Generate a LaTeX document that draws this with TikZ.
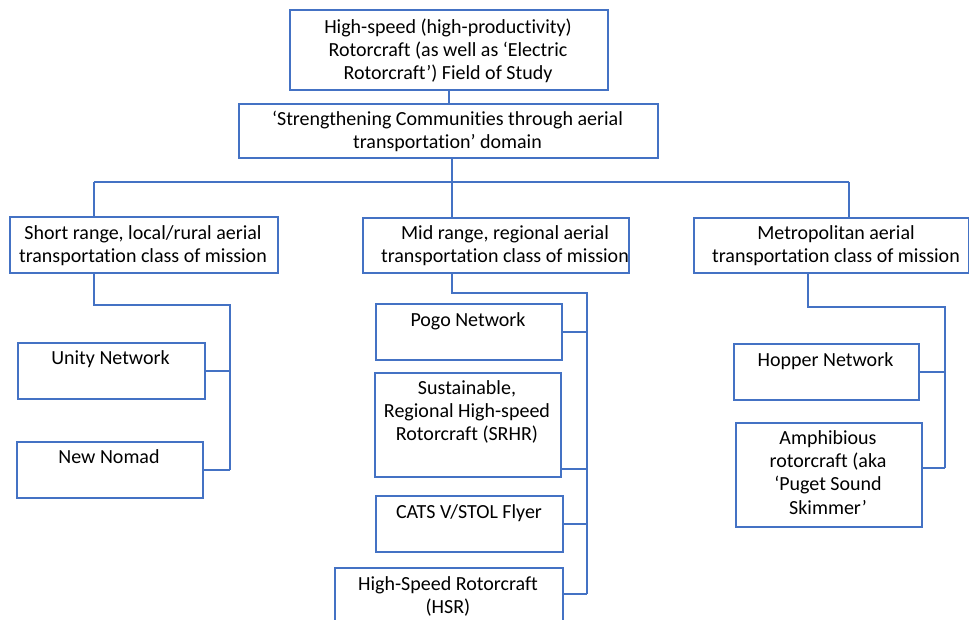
\documentclass[tikz,border=0pt]{standalone}
\usepackage{fontspec}
\setmainfont{Carlito}[Ligatures=NoCommon]
\definecolor{lineblue}{RGB}{68,114,196}
\tikzset{
  box/.style={draw=lineblue, line width=1.8pt, inner sep=0pt, anchor=north west},
  lbl/.style={inner sep=0pt, anchor=north, align=center, text=black,
              font=\fontsize{20}{23.3}\selectfont},
  link/.style={draw=lineblue, line width=1.8pt},
}
\begin{document}
\begin{tikzpicture}[x=1pt, y=-1pt]
\useasboundingbox (0,0) rectangle (969,620);
\fill[white] (0,0) rectangle (969,620);

% ---- boxes ----
\node[box, minimum width=318pt, minimum height=80pt] (top) at (289,9) {};
\node[box, minimum width=419pt, minimum height=54pt] (domain) at (238,103) {};

\node[box, minimum width=268pt, minimum height=56pt] (short) at (9,216) {};
\node[box, minimum width=266pt, minimum height=55pt] (mid) at (362,217) {};
\node[box, minimum width=275pt, minimum height=55pt] (metro) at (693,217) {};

\node[box, minimum width=187pt, minimum height=56pt] (unity) at (17,342) {};
\node[box, minimum width=186pt, minimum height=56pt] (nomad) at (16,441) {};

\node[box, minimum width=186pt, minimum height=56pt] (pogo) at (375,303) {};
\node[box, minimum width=186pt, minimum height=104pt] (srhr) at (374,372) {};
\node[box, minimum width=187pt, minimum height=56pt] (cats) at (375,495) {};
\node[box, minimum width=228pt, minimum height=70pt] (hsr) at (334,567) {};

\node[box, minimum width=185pt, minimum height=56pt] (hopper) at (733,343) {};
\node[box, minimum width=186pt, minimum height=104pt] (amph) at (735,422) {};

% ---- texts ----
\node[lbl] (top-t) at (448,16.7) {\strut High-speed (high-productivity)\\\strut Rotorcraft (as well as ‘Electric\\\strut Rotorcraft’) Field of Study};
\node[lbl] (domain-t) at (447.5,108.7) {\strut ‘Strengthening Communities through aerial\\\strut transportation’ domain};
\node[lbl] (short-t) at (143,222.7) {\strut Short range, local/rural aerial\\\strut transportation class of mission};
\node[lbl] (mid-t) at (505,222.7) {\strut Mid range, regional aerial\\\strut transportation class of mission};
\node[lbl] (metro-t) at (836,222.7) {\strut Metropolitan aerial\\\strut transportation class of mission};
\node[lbl] (unity-t) at (110.5,347.7) {\strut Unity Network};
\node[lbl] (nomad-t) at (109,446.7) {\strut New Nomad};
\node[lbl] (pogo-t) at (468,309.7) {\strut Pogo Network};
\node[lbl] (srhr-t) at (467,377.7) {\strut Sustainable,\\\strut Regional High-speed\\\strut Rotorcraft (SRHR)};
\node[lbl] (cats-t) at (469,501.7) {\strut CATS V/STOL Flyer};
\node[lbl] (hsr-t) at (448,573.7) {\strut High-Speed Rotorcraft\\\strut (HSR)};
\node[lbl] (hopper-t) at (825.5,349.7) {\strut Hopper Network};
\node[lbl] (amph-t) at (828,427.7) {\strut Amphibious\\\strut rotorcraft (aka\\\strut ‘Puget Sound\\\strut Skimmer’};

% ---- junction points ----
\coordinate (bus) at (452,182);
\coordinate (busL) at (94,182);
\coordinate (busR) at (849,182);
\coordinate (sTurn) at (94,305);
\coordinate (sRail) at (230,305);
\coordinate (mTurn) at (452,293);
\coordinate (mRail) at (587,293);
\coordinate (rTurn) at (808,307);
\coordinate (rRail) at (945,307);

% ---- connectors ----
\draw[link] (top.south) -- (top.south |- domain.north);
\draw[link] (domain.south -| bus) -- (bus);
\draw[link] (busL) -- (busR);
\draw[link] (busL) -- (busL |- short.north);
\draw[link] (bus) -- (bus |- mid.north);
\draw[link] (busR) -- (busR |- metro.north);

% short-range branch
\draw[link] (short.south -| sTurn) -- (sTurn) -- (sRail) -- (sRail |- nomad.east);
\draw[link] (unity.east) -- (unity.east -| sRail);
\draw[link] (nomad.east) -- (nomad.east -| sRail);

% mid-range branch
\coordinate (srhrJ) at ([yshift=9pt]srhr.south east);
\coordinate (hsrJ) at ([yshift=-27pt]hsr.north east);
\draw[link] (mid.south -| mTurn) -- (mTurn) -- (mRail) -- (mRail |- hsrJ);
\draw[link] (pogo.east) -- (pogo.east -| mRail);
\draw[link] (srhrJ) -- (srhrJ -| mRail);
\draw[link] (cats.east) -- (cats.east -| mRail);
\draw[link] (hsrJ) -- (hsrJ -| mRail);

% metropolitan branch
\coordinate (amphJ) at ([yshift=7pt]amph.east);
\draw[link] (metro.south -| rTurn) -- (rTurn) -- (rRail) -- (rRail |- amphJ);
\draw[link] (hopper.east) -- (hopper.east -| rRail);
\draw[link] (amphJ) -- (amphJ -| rRail);
\end{tikzpicture}
\end{document}
